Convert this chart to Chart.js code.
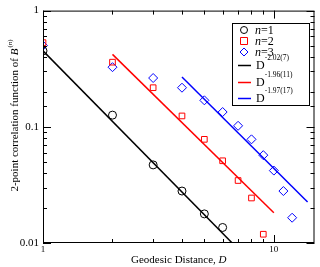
<!DOCTYPE html>
<html>
<head>
<meta charset="utf-8">
<script src="https://cdn.jsdelivr.net/npm/chart.js@4"></script>
<style>
  html, body { margin: 0; padding: 0; background: #fff; }
  #wrap { width: 320px; height: 267px; }
</style>
</head>
<body>
<div id="wrap"><canvas id="corrChart" width="320" height="267"></canvas></div>
<script>
// distances D and correlation values
var d_n1 = [1, 2, 3, 4, 5, 6];
var c_n1 = [0.45, 0.126, 0.047, 0.028, 0.0178, 0.0136];
var d_n2 = [1, 2, 3, 4, 5, 6, 7, 8, 9];
var c_n2 = [0.53, 0.36, 0.217, 0.124, 0.078, 0.051, 0.0345, 0.0244, 0.0119];
var d_n3 = [1, 2, 3, 4, 5, 6, 7, 8, 9, 10, 11, 12];
var c_n3 = [0.5, 0.326, 0.263, 0.217, 0.169, 0.134, 0.102, 0.078, 0.057, 0.042, 0.028, 0.0165];

// fitted power laws (end points of the drawn segments)
var fit1_x = [1, 6.6];
var fit1_y = [0.45, 0.01];
var fit2_x = [2, 10];
var fit2_y = [0.42, 0.0182];
var fit3_x = [4, 14];
var fit3_y = [0.268, 0.0225];

var legendRows = [
    { kind: 'point', style: 'circle', color: '#000', n: '1' },
    { kind: 'point', style: 'rect', color: '#ff0000', n: '2' },
    { kind: 'point', style: 'rectRot', color: '#0000ff', n: '3' },
    { kind: 'line', color: '#000', exp: '-2.02(7)' },
    { kind: 'line', color: '#ff0000', exp: '-1.96(11)' },
    { kind: 'line', color: '#0000ff', exp: '-1.97(17)' }
];

var SERIF = '"Liberation Serif", "DejaVu Serif", serif';

function pts(xs, ys) {
    return xs.map(function (x, i) { return { x: x, y: ys[i] }; });
}

// box, inward ticks, titles and legend (Grace-like look)
var frame = {
    id: 'frame',
    afterDraw: function (chart) {
        var ctx = chart.ctx, a = chart.chartArea;
        var xs = chart.scales.x, ys = chart.scales.y;
        ctx.save();
        ctx.strokeStyle = '#000';
        ctx.lineWidth = 1;
        ctx.strokeRect(a.left + 0.5, a.top + 0.5, a.right - a.left - 1, a.bottom - a.top - 1);

        ctx.beginPath();
        ys.ticks.forEach(function (t) {
            var y = Math.round(ys.getPixelForValue(t.value)) + 0.5;
            var major = Math.abs(Math.log10(t.value) - Math.round(Math.log10(t.value))) < 1e-6;
            var len = major ? 8 : 4;
            ctx.moveTo(a.left, y); ctx.lineTo(a.left + len, y);
            ctx.moveTo(a.right, y); ctx.lineTo(a.right - len, y);
        });
        xs.ticks.forEach(function (t) {
            if (t.value >= xs.max) return;
            var x = Math.round(xs.getPixelForValue(t.value)) + 0.5;
            var major = Math.abs(Math.log10(t.value) - Math.round(Math.log10(t.value))) < 1e-6;
            var len = major ? 8 : 4;
            ctx.moveTo(x, a.bottom); ctx.lineTo(x, a.bottom - len);
            ctx.moveTo(x, a.top); ctx.lineTo(x, a.top + len);
        });
        ctx.stroke();

        // x title
        ctx.fillStyle = '#000';
        ctx.textBaseline = 'alphabetic';
        ctx.font = '11px ' + SERIF;
        var xt1 = 'Geodesic Distance, ';
        ctx.font = '11px ' + SERIF;
        var w1 = ctx.measureText(xt1).width;
        ctx.font = 'italic 11px ' + SERIF;
        var w2 = ctx.measureText('D').width;
        var xStart = (a.left + a.right) / 2 - (w1 + w2) / 2;
        ctx.font = '11px ' + SERIF;
        ctx.textAlign = 'left';
        ctx.fillText(xt1, xStart, 263);
        ctx.font = 'italic 11px ' + SERIF;
        ctx.fillText('D', xStart + w1, 263);

        // y title (rotated)
        ctx.save();
        ctx.translate(18, 116);
        ctx.rotate(-Math.PI / 2);
        var yt1 = '2-point correlation function of ';
        ctx.font = '11px ' + SERIF;
        var y1w = ctx.measureText(yt1).width;
        ctx.font = 'italic 11px ' + SERIF;
        var bw = ctx.measureText('B').width;
        ctx.font = '7px ' + SERIF;
        var sw = ctx.measureText('(n)').width;
        var s0 = -(y1w + bw + sw) / 2;
        ctx.font = '11px ' + SERIF;
        ctx.fillText(yt1, s0, 0);
        ctx.font = 'italic 11px ' + SERIF;
        ctx.fillText('B', s0 + y1w, 0);
        ctx.font = '7px ' + SERIF;
        ctx.fillText('(', s0 + y1w + bw + 1, -6);
        var pw = ctx.measureText('(').width;
        ctx.font = 'italic 7px ' + SERIF;
        ctx.fillText('n', s0 + y1w + bw + 1 + pw, -6);
        var nw = ctx.measureText('n').width;
        ctx.font = '7px ' + SERIF;
        ctx.fillText(')', s0 + y1w + bw + 1 + pw + nw, -6);
        ctx.restore();

        // legend box
        ctx.fillStyle = '#fff';
        ctx.fillRect(232, 23, 77, 82);
        ctx.strokeStyle = '#000';
        ctx.strokeRect(232.5, 23.5, 77, 82);
        var rowY = [30, 41, 52, 65, 82, 98];
        legendRows.forEach(function (r, i) {
            var cy = rowY[i];
            ctx.strokeStyle = r.color;
            ctx.fillStyle = '#000';
            if (r.kind === 'point') {
                ctx.lineWidth = 1;
                ctx.beginPath();
                if (r.style === 'circle') {
                    ctx.arc(244, cy, 3.5, 0, Math.PI * 2);
                } else if (r.style === 'rect') {
                    ctx.rect(240.5, cy - 3.5, 7, 7);
                } else {
                    ctx.moveTo(244, cy - 4); ctx.lineTo(248, cy);
                    ctx.lineTo(244, cy + 4); ctx.lineTo(240, cy); ctx.closePath();
                }
                ctx.stroke();
                ctx.font = 'italic 12px ' + SERIF;
                ctx.fillText('n', 255, cy + 4);
                var nw2 = ctx.measureText('n').width;
                ctx.font = '12px ' + SERIF;
                ctx.fillText('=' + r.n, 255 + nw2, cy + 4);
            } else {
                ctx.lineWidth = 1.5;
                ctx.beginPath();
                ctx.moveTo(238, cy + 0.5); ctx.lineTo(251, cy + 0.5);
                ctx.stroke();
                ctx.font = '12px ' + SERIF;
                ctx.fillText('D', 256, cy + 4);
                var dw = ctx.measureText('D').width;
                ctx.font = '7.5px ' + SERIF;
                ctx.fillText(r.exp, 256 + dw, cy - 5);
            }
        });
        ctx.restore();
    }
};

var ctx = document.getElementById('corrChart').getContext('2d');

var fitLine = function (xs, ys, color) {
    return {
        type: 'line',
        data: pts(xs, ys),
        borderColor: color,
        borderWidth: 1.5,
        pointRadius: 0,
        fill: false,
        tension: 0
    };
};

var markers = function (xs, ys, style, color) {
    return {
        type: 'scatter',
        data: pts(xs, ys),
        pointStyle: style,
        pointRadius: style === 'rectRot' ? 4.5 : 4,
        pointBorderColor: color,
        pointBackgroundColor: 'rgba(0,0,0,0)',
        pointBorderWidth: 1,
        showLine: false
    };
};

var myChart = new Chart(ctx, {
    data: {
        datasets: [
            fitLine(fit1_x, fit1_y, '#000000'),
            fitLine(fit2_x, fit2_y, '#ff0000'),
            fitLine(fit3_x, fit3_y, '#0000ff'),
            markers(d_n1, c_n1, 'circle', '#000000'),
            markers(d_n2, c_n2, 'rect', '#ff0000'),
            markers(d_n3, c_n3, 'rectRot', '#0000ff')
        ]
    },
    options: {
        responsive: false,
        animation: false,
        layout: { padding: { top: 5, right: 3, left: 0, bottom: 0 } },
        plugins: {
            legend: { display: false },
            tooltip: { enabled: false }
        },
        scales: {
            x: {
                type: 'logarithmic',
                min: 1,
                max: 15,
                grid: { display: false, drawTicks: false },
                border: { display: false },
                ticks: {
                    autoSkip: false,
                    maxRotation: 0,
                    padding: 1,
                    color: '#000',
                    font: { family: SERIF, size: 9 },
                    callback: function (v) { return (v === 1 || v === 10) ? String(v) : ''; }
                },
                afterFit: function (s) { s.height = 24; }
            },
            y: {
                type: 'logarithmic',
                min: 0.01,
                max: 1,
                grid: { display: false, drawTicks: false },
                border: { display: false },
                ticks: {
                    autoSkip: false,
                    padding: 4,
                    color: '#000',
                    font: { family: SERIF, size: 11 },
                    callback: function (v) {
                        if (v === 1) return '1';
                        if (v === 0.1) return '0.1';
                        if (v === 0.01) return '0.01';
                        return '';
                    }
                },
                afterFit: function (s) { s.width = 43; }
            }
        }
    },
    plugins: [frame]
});
</script>
</body>
</html>
